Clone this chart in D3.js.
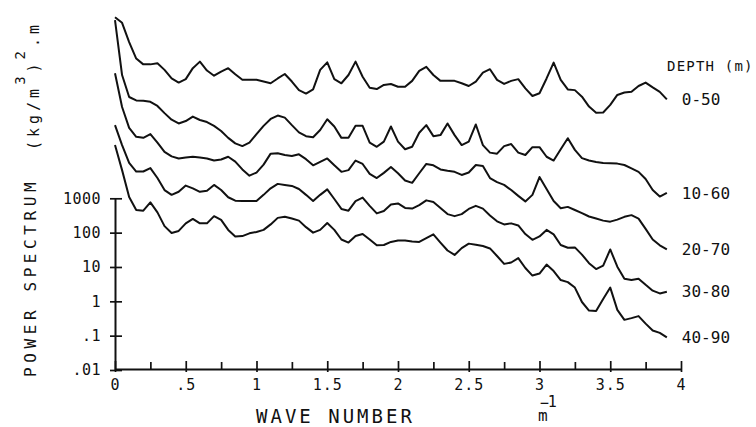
<!DOCTYPE html>
<html>
<head>
<meta charset="utf-8">
<script src="https://cdnjs.cloudflare.com/ajax/libs/d3/7.8.5/d3.min.js"></script>
<style>
  body { margin: 0; background: #fff; }
  text { font-family: "DejaVu Sans Mono", monospace; fill: #111; }
</style>
</head>
<body>
<div id="chart"></div>
<script>
// —————————— DATA
// wave number (m^-1) of every spectral estimate
var waveNumber = [0,0.05,0.1,0.15,0.2,0.25,0.3,0.35,0.4,0.45,0.5,0.55,0.6,0.65,0.7,0.75,0.8,0.85,0.9,0.95,
  1,1.05,1.1,1.15,1.2,1.25,1.3,1.35,1.4,1.45,1.5,1.55,1.6,1.65,1.7,1.75,1.8,1.85,1.9,1.95,
  2,2.05,2.1,2.15,2.2,2.25,2.3,2.35,2.4,2.45,2.5,2.55,2.6,2.65,2.7,2.75,2.8,2.85,2.9,2.95,
  3,3.05,3.1,3.15,3.2,3.25,3.3,3.35,3.4,3.45,3.5,3.55,3.6,3.65,3.7,3.75,3.8,3.85,3.9];

// log10 of the power spectrum as plotted (curves are offset on the axis)
var logP_0_50 = [8.27,8.11,7.55,7.07,6.90,6.90,6.93,6.74,6.49,6.37,
  6.47,6.79,6.98,6.72,6.57,6.69,6.79,6.61,6.45,6.45,
  6.45,6.40,6.35,6.49,6.62,6.40,6.15,6.05,6.17,6.74,
  6.96,6.47,6.35,6.59,6.98,6.54,6.22,6.18,6.30,6.33,
  6.25,6.25,6.42,6.71,6.83,6.59,6.42,6.42,6.42,6.35,
  6.27,6.40,6.66,6.76,6.45,6.33,6.42,6.47,6.20,5.98,
  6.06,6.49,6.95,6.45,6.17,6.15,5.96,5.67,5.49,5.50,
  5.72,6.01,6.08,6.10,6.27,6.37,6.23,6.10,5.88];
var logP_10_60 = [8.19,6.59,5.95,5.85,5.84,5.81,5.69,5.48,5.29,5.18,
  5.25,5.38,5.28,5.22,5.11,4.96,4.76,4.60,4.52,4.62,
  4.87,5.11,5.31,5.41,5.35,5.13,4.92,4.81,4.78,4.99,
  5.30,5.09,4.76,4.76,5.11,5.11,4.62,4.50,4.65,5.09,
  4.65,4.43,4.50,4.91,5.13,4.81,4.84,5.18,4.84,4.55,
  4.65,5.15,4.55,4.33,4.30,4.52,4.58,4.33,4.26,4.49,
  4.49,4.21,4.10,4.43,4.75,4.41,4.17,4.10,4.06,4.03,
  4.02,4.01,3.97,3.87,3.77,3.56,3.24,3.05,3.16];
var logP_20_70 = [6.64,5.66,5.05,4.79,4.76,4.87,4.62,4.35,4.22,4.16,
  4.19,4.21,4.19,4.16,4.10,4.13,4.21,4.07,3.84,3.66,
  3.75,3.98,4.30,4.31,4.26,4.23,4.28,4.14,3.96,4.06,
  4.16,3.96,3.77,3.82,4.10,4.00,3.71,3.59,3.74,3.91,
  3.73,3.52,3.45,3.73,4.00,3.96,3.84,3.80,3.77,3.68,
  3.75,3.97,3.94,3.59,3.47,3.39,3.24,3.07,2.91,3.10,
  3.62,3.27,2.92,2.71,2.75,2.66,2.57,2.47,2.41,2.35,
  2.32,2.38,2.46,2.51,2.41,2.11,1.80,1.63,1.51];
var logP_30_80 = [5.13,4.55,4.03,3.78,3.78,3.88,3.59,3.24,3.10,3.19,
  3.37,3.29,3.19,3.22,3.39,3.24,3.03,2.93,2.92,2.92,
  2.92,3.10,3.29,3.42,3.39,3.36,3.27,3.10,2.92,3.10,
  3.26,2.98,2.69,2.64,2.92,3.02,2.78,2.56,2.63,2.82,
  2.85,2.72,2.70,2.80,2.94,2.89,2.72,2.54,2.48,2.54,
  2.69,2.78,2.70,2.50,2.33,2.24,2.27,2.21,1.96,1.79,
  1.89,2.08,1.95,1.64,1.56,1.57,1.36,1.11,0.94,1.04,
  1.51,1.01,0.66,0.62,0.66,0.48,0.31,0.23,0.28];
var logP_40_90 = [4.55,3.82,3.04,2.66,2.64,2.88,2.59,2.19,1.99,2.05,
  2.27,2.40,2.27,2.27,2.48,2.37,2.08,1.89,1.90,1.98,
  2.02,2.08,2.24,2.43,2.46,2.41,2.35,2.16,2.00,2.08,
  2.28,2.08,1.80,1.71,1.90,1.96,1.80,1.63,1.64,1.73,
  1.77,1.77,1.74,1.73,1.84,1.95,1.71,1.48,1.35,1.55,
  1.68,1.65,1.61,1.54,1.32,1.09,1.13,1.26,0.97,0.75,
  0.81,1.07,0.88,0.62,0.56,0.40,-0.02,-0.27,-0.28,0.07,
  0.40,-0.25,-0.54,-0.49,-0.43,-0.65,-0.85,-0.92,-1.05];

var depthLabels = ["0-50", "10-60", "20-70", "30-80", "40-90"];
var xTickValues = [0, 0.25, 0.5, 0.75, 1, 1.25, 1.5, 1.75, 2, 2.25, 2.5, 2.75, 3, 3.25, 3.5, 3.75, 4];
var xTickLabels = ["0", "", ".5", "", "1", "", "1.5", "", "2", "", "2.5", "", "3", "", "3.5", "", "4"];
var yTickValues = [0.01, 0.1, 1, 10, 100, 1000];
var yTickLabels = [".01", ".1", "1", "10", "100", "1000"];

// —————————— SETUP
var W = 756, H = 427;

var svg = d3.select("#chart")
  .append("svg")
    .attr("width", W)
    .attr("height", H);

var x = d3.scaleLinear().domain([0, 4]).range([115, 681]);
var y = d3.scaleLog().domain([0.01, 1000]).range([370, 198.3]);

// x axis: every quarter, labels on the halves
var xAxis = svg.append("g")
  .attr("transform", "translate(0,369)")
  .call(d3.axisBottom(x)
    .tickValues(xTickValues)
    .tickSizeInner(0)
    .tickSizeOuter(0)
    .tickFormat(function(d, i) { return xTickLabels[i]; }));
xAxis.select(".domain").attr("stroke", "#111").attr("stroke-width", 2);
xAxis.selectAll(".tick line")
  .attr("stroke", "#111")
  .attr("stroke-width", 1.7)
  .attr("y1", function(d, i) { return xTickLabels[i] ? 3 : 0; })
  .attr("y2", function(d, i) { return xTickLabels[i] ? -8 : -7; });
xAxis.selectAll(".tick text")
  .attr("y", 21)
  .attr("dy", 0)
  .style("font-size", "15px")
  .style("letter-spacing", "1px");

// y axis
var yAxis = svg.append("g")
  .attr("transform", "translate(115,0)")
  .call(d3.axisLeft(y)
    .tickValues(yTickValues)
    .tickSizeInner(5)
    .tickSizeOuter(0)
    .tickFormat(function(d, i) { return yTickLabels[i]; }));
yAxis.select(".domain").attr("stroke", "#111").attr("stroke-width", 2);
yAxis.selectAll(".tick line")
  .attr("stroke", "#111")
  .attr("stroke-width", 1.7)
  .attr("x1", 7);
yAxis.selectAll(".tick text")
  .attr("x", -14)
  .style("font-size", "15px")
  .style("letter-spacing", "0.5px");

// —————————— CURVES
var series = [logP_0_50, logP_10_60, logP_20_70, logP_30_80, logP_40_90];

var line = d3.line()
  .x(function(d, i) { return x(waveNumber[i]); })
  .y(function(d) { return y(Math.pow(10, d)); });

svg.selectAll("path.spectrum")
  .data(series)
  .enter()
  .append("path")
    .attr("class", "spectrum")
    .attr("d", line)
    .attr("fill", "none")
    .attr("stroke", "#111")
    .attr("stroke-width", 2)
    .attr("stroke-linejoin", "round");

svg.selectAll("text.depth")
  .data(series)
  .enter()
  .append("text")
    .attr("class", "depth")
    .attr("x", function(d) { return x(waveNumber[d.length - 1]) + 15; })
    .attr("y", function(d) { return y(Math.pow(10, d[d.length - 1])); })
    .attr("dy", "0.36em")
    .style("font-size", "16px")
    .text(function(d, i) { return depthLabels[i]; });

svg.append("text")
  .attr("x", 667)
  .attr("y", 71)
  .style("font-size", "14px")
  .style("letter-spacing", "1.2px")
  .text("DEPTH (m)");

// —————————— AXIS TITLES
svg.append("text")
  .attr("x", 256)
  .attr("y", 423)
  .style("font-size", "19px")
  .style("letter-spacing", "3px")
  .text("WAVE NUMBER");

var unitX = svg.append("text")
  .attr("x", 538)
  .attr("y", 421)
  .style("font-size", "16px");
unitX.append("tspan").text("m");
unitX.append("tspan").attr("dx", -8).attr("dy", -13).style("font-size", "15px").text("\u2212");
unitX.append("tspan").attr("dx", -1).attr("dy", -1).style("font-size", "15px").text("1");

svg.append("text")
  .attr("transform", "translate(36,377) rotate(-90)")
  .style("font-size", "16px")
  .style("letter-spacing", "4.6px")
  .text("POWER SPECTRUM");

var unitY = svg.append("text")
  .attr("transform", "translate(39,150) rotate(-90)")
  .style("font-size", "15px")
  .style("letter-spacing", "4px");
unitY.append("tspan").text("(kg/m");
unitY.append("tspan").attr("dy", -14).style("font-size", "14px").text("3");
unitY.append("tspan").attr("dy", 14).text(")");
unitY.append("tspan").attr("dy", -14).style("font-size", "14px").text("2");
unitY.append("tspan").attr("dy", 14).text(".m");
</script>
</body>
</html>
